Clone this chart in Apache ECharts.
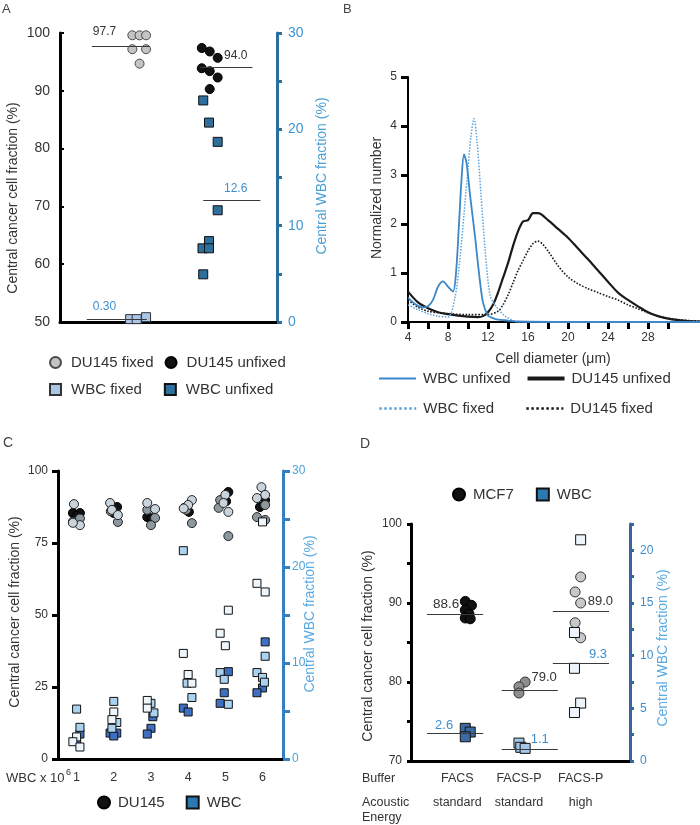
<!DOCTYPE html>
<html><head><meta charset="utf-8">
<script src="https://cdn.jsdelivr.net/npm/echarts@6/dist/echarts.min.js"></script>
<style>
html,body{margin:0;padding:0;background:#fff;}
.layer{position:absolute;left:0;top:0;width:700px;height:825px;}
</style></head><body>
<div id="cA" class="layer"></div>
<div id="cB" class="layer"></div>
<div id="cC" class="layer"></div>
<div id="cD" class="layer"></div>
<script>
// ================= DATA =================
// ---- Panel A : central fractions, fixed vs unfixed (x: 1 = fixed, 2 = unfixed) ----
const A_du145Fixed      = [99.6, 99.6, 99.6, 97.2, 97.2, 94.7];
const A_du145FixedJit   = [0, 0.1, 0.19, 0, 0.19, 0.1];
const A_du145Unfixed    = [97.4, 96.8, 95.7, 93.9, 93.4, 92.3, 90.3];
const A_du145UnfixedJit = [-0.04, 0.07, 0.18, -0.04, 0.07, 0.18, 0.07];
const A_wbcFixed        = [0.3, 0.3, 0.5];
const A_wbcFixedJit     = [-0.03, 0.06, 0.19];
const A_wbcUnfixed      = [23.0, 20.7, 18.7, 11.6, 7.65, 8.4, 7.65, 4.95];
const A_wbcUnfixedJit   = [-0.02, 0.06, 0.18, 0.18, -0.03, 0.06, 0.06, -0.02];
const A_cancerMeans     = [97.7, 94.0];
const A_cancerMeanText  = ['97.7', '94.0'];
const A_wbcMeans        = [0.30, 12.6];
const A_wbcMeanText     = ['0.30', '12.6'];
const A_leftTicks = [50, 100, 10];

// ---- Panel B : size distributions ----
const B_wbcUnfixedX = [4, 4.5, 5, 5.5, 6, 6.5, 7, 7.5, 8, 8.5, 8.8, 9.1, 9.35, 9.6, 9.85, 10.2, 10.7, 11.1, 11.5, 12, 12.5, 13, 14, 15, 20, 33.2];
const B_wbcUnfixedY = [0.5, 0.4, 0.33, 0.3, 0.32, 0.45, 0.72, 0.83, 0.72, 0.62, 1.0, 2.0, 2.9, 3.42, 3.25, 2.6, 1.75, 1.0, 0.4, 0.13, 0.08, 0.05, 0.03, 0.01, 0, 0];
const B_wbcFixedX   = [4, 5, 6, 7, 8, 8.7, 9.2, 9.6, 9.9, 10.3, 10.6, 10.9, 11.3, 11.7, 12.2, 12.7, 13.2, 13.7, 14.5, 15, 20, 33.2];
const B_wbcFixedY   = [0.35, 0.25, 0.17, 0.12, 0.1, 0.5, 1.3, 2.2, 2.9, 3.8, 4.15, 3.7, 2.6, 1.5, 0.55, 0.35, 0.22, 0.12, 0.03, 0, 0, 0];
const B_du145UnfixedX = [4, 5, 6, 7, 8, 9, 10, 11, 11.5, 12, 12.5, 13, 13.5, 14, 14.5, 15, 15.5, 16, 16.5, 17, 18, 19, 20, 21, 22, 23, 24, 25, 26, 27, 28, 29, 30, 31, 32, 33.2];
const B_du145UnfixedY = [0.62, 0.4, 0.28, 0.2, 0.16, 0.13, 0.11, 0.1, 0.12, 0.2, 0.35, 0.6, 0.9, 1.2, 1.55, 1.85, 2.05, 2.08, 2.22, 2.22, 2.08, 1.9, 1.72, 1.5, 1.28, 1.05, 0.82, 0.6, 0.45, 0.32, 0.2, 0.12, 0.07, 0.04, 0.02, 0.01];
const B_du145FixedX = [4, 5, 6, 8, 10, 12, 13, 13.5, 14, 14.5, 15, 15.5, 16, 16.5, 17, 17.5, 18, 19, 20, 21, 22, 23, 24, 25, 26, 27, 28, 29, 30, 31, 32, 33.2];
const B_du145FixedY = [0.45, 0.3, 0.22, 0.17, 0.15, 0.15, 0.22, 0.35, 0.55, 0.8, 1.05, 1.25, 1.45, 1.6, 1.65, 1.58, 1.45, 1.15, 0.92, 0.78, 0.68, 0.6, 0.52, 0.45, 0.35, 0.27, 0.19, 0.12, 0.08, 0.05, 0.03, 0.02];
const B_xTicks      = [4, 6, 8, 10, 12, 14, 16, 18, 20, 22, 24, 26, 28, 30];
const B_xTickLabels = [4, 8, 12, 16, 20, 24, 28];

// ---- Panel C : WBC load (x = WBC x 10^6), [group, value, jitter] ----
const C_groups = [1, 2, 3, 4, 5, 6];
const C_du145Grey  = [[1,82.4,-0.1],[1,83.5,0.09],[2,82.3,0.11],[2,86.0,-0.08],[3,86.5,-0.1],[3,83.7,0.11],[3,81.2,0],[4,81.9,0.1],[4,86.5,-0.05],[5,89.9,-0.14],[5,87.2,-0.18],[5,77.4,0.08],[6,88.2,0.07],[6,84.0,-0.15],[6,83.0,0.07]];
const C_du145Black = [[1,85.4,-0.1],[1,85.4,0.09],[1,84.5,0],[2,87.5,0.09],[2,85.4,0],[3,84.0,-0.1],[3,83.6,0.02],[4,87.2,-0.1],[4,85.8,0.02],[5,92.7,0.08],[5,89.5,0.02],[6,89.9,0.07],[6,87.5,-0.07]];
const C_du145Light = [[1,88.5,-0.07],[1,81.2,0.09],[1,82.0,-0.1],[2,88.9,-0.1],[2,86.5,-0.05],[2,84.7,0.11],[3,88.9,-0.1],[3,86.8,0.11],[4,89.9,0.1],[4,88.2,0],[4,87.0,-0.12],[5,91.7,0],[5,88.9,-0.05],[5,85.8,0.08],[6,94.4,-0.03],[6,91.7,0.07],[6,90.6,-0.15]];
const C_wbcDark  = [[1,2.6,0.09],[1,1.9,0],[2,2.7,-0.1],[2,2.7,0.08],[2,2.4,0],[3,4.4,0.05],[3,3.2,0],[3,2.6,-0.1],[4,5.3,-0.13],[4,4.9,0],[5,9.1,0.08],[5,6.9,-0.03],[5,5.8,-0.14],[6,12.2,0.07],[6,7.4,0],[6,6.9,-0.15]];
const C_wbcLight = [[1,5.2,0],[1,3.3,0.09],[2,6.0,0],[2,3.8,0.08],[2,3.2,-0.05],[3,5.8,0],[3,4.8,0.08],[4,21.7,-0.13],[4,7.9,-0.03],[4,6.4,0.1],[5,9.0,-0.14],[5,8.3,-0.03],[5,5.7,0.08],[6,10.7,0.07],[6,9.0,-0.15],[6,8.5,0],[6,8.0,0.05]];
const C_wbcWhite = [[1,2.3,0],[1,1.8,-0.1],[1,1.25,0.09],[2,4.9,0],[2,4.1,-0.05],[3,6.1,-0.1],[3,5.3,-0.1],[4,11.0,-0.13],[4,8.8,0],[4,7.9,0.1],[5,15.5,0.08],[5,13.1,-0.14],[5,11.8,0],[6,24.7,0],[6,18.3,-0.15],[6,17.4,0.07]];

// ---- Panel D : buffer / acoustic energy, [condition, value, jitter] ----
const D_buffers = ['FACS', 'FACS-P', 'FACS-P'];
const D_energy  = ['standard', 'standard', 'high'];
const D_mcf7Facs      = [[1,90.2,0.13],[1,89.7,0.23],[1,89.1,0.13],[1,88.6,0.19],[1,88.1,0.13],[1,88.0,0.21]];
const D_mcf7FacsPStd  = [[2,80.0,0.1],[2,79.4,0],[2,78.6,0]];
const D_mcf7FacsPHigh = [[3,93.3,0],[3,91.4,-0.09],[3,90.0,0],[3,87.5,-0.09],[3,85.6,0]];
const D_wbcFacs       = [[1,3.1,0.13],[1,2.75,0.21],[1,2.3,0.13]];
const D_wbcFacsPStd   = [[2,1.7,0],[2,1.3,0.03],[2,1.2,0.1]];
const D_wbcFacsPHigh  = [[3,21.0,0],[3,12.2,-0.1],[3,8.8,-0.1],[3,5.5,0],[3,4.6,-0.1]];
const D_cancerMeans    = [88.6, 79.0, 89.0];
const D_cancerMeanText = ['88.6', '79.0', '89.0'];
const D_wbcMeans       = [2.6, 1.1, 9.3];
const D_wbcMeanText    = ['2.6', '1.1', '9.3'];

// ================= HELPERS =================
const FONT = "'Liberation Sans', Arial, Helvetica, sans-serif";
const TXT = '#333';
function txt(x, y, text, size, color, align, rot) {
  return {type:'text', x:x, y:y, rotation: rot || 0, silent:true, z:100,
    style:{text:text, fill:color || TXT, font: size + 'px ' + FONT,
      align: align || 'left', verticalAlign:'middle', textAlign: align || 'left', textVerticalAlign:'middle'}};
}
const ROT = Math.PI / 2;
function pts(vals, jit, base) { return vals.map((v, i) => [base + jit[i], v]); }
function trip(arr) { return arr.map(d => [d[0] + d[2], d[1]]); }
function zip(xs, ys) { return xs.map((x, i) => [x, ys[i]]); }
function meanLine(value, x1, x2, text, pos, color, size, dist) {
  return {silent:true, symbol:'none', animation:false,
    lineStyle:{color:'#3a3a3a', width:1, type:'solid'},
    emphasis:{disabled:true},
    label:{show:true, position:pos, formatter:text, color:color, fontSize:size, fontFamily:FONT, distance:dist},
    data:[[{coord:[x1, value]}, {coord:[x2, value]}]]};
}
function scatter(name, data, yIdx, symbol, size, fill, border, extra) {
  return Object.assign({type:'scatter', name:name, yAxisIndex:yIdx, symbol:symbol, symbolSize:size,
    itemStyle:{color:fill, borderColor:border, borderWidth:1, opacity:1}, data:data, z:3}, extra || {});
}
function baseAxisLine(color, width) { return {show:true, onZero:false, lineStyle:{color:color, width:width}}; }
const NOSYM = {opacity:0, borderWidth:0};

// ================= PANEL A =================
const chartA = echarts.init(document.getElementById('cA'));
chartA.setOption({
  animation:false, backgroundColor:'#fff', textStyle:{fontFamily:FONT},
  grid:{left:60, top:33, width:217, height:289},
  xAxis:{type:'value', min:0, max:3, axisLine:baseAxisLine('#000', 3), axisTick:{show:false}, axisLabel:{show:false}, splitLine:{show:false}},
  yAxis:[
    {type:'value', min:A_leftTicks[0], max:A_leftTicks[1], interval:A_leftTicks[2], position:'left',
     axisLine:baseAxisLine('#000', 3), axisTick:{show:true, inside:true, length:4, lineStyle:{color:'#000', width:2}},
     axisLabel:{color:TXT, fontSize:14, margin:10}, splitLine:{show:false}},
    {type:'value', min:0, max:30, interval:5, position:'right',
     axisLine:baseAxisLine('#2a6e9b', 3), axisTick:{show:true, length:5, lineStyle:{color:'#2a6e9b', width:3}},
     axisLabel:{color:'#3f95d2', fontSize:14, margin:11, formatter:v => (v % 10 === 0 ? String(v) : '')}, splitLine:{show:false}}
  ],
  legend:[
    {left:49, top:355, padding:0, itemWidth:11, itemHeight:11, itemGap:11, textStyle:{fontSize:15, color:TXT, padding:[0,0,0,5]},
     data:[{name:'DU145 fixed', icon:'circle'}, {name:'DU145 unfixed', icon:'circle'}]},
    {left:49, top:382, padding:0, itemWidth:11, itemHeight:11, itemGap:22, textStyle:{fontSize:15, color:TXT, padding:[0,0,0,5]},
     data:[{name:'WBC fixed', icon:'rect'}, {name:'WBC unfixed', icon:'rect'}]}
  ],
  graphic:[
    txt(2, 9, 'A', 13, '#444'),
    txt(343, 9, 'B', 13, '#444'),
    txt(13, 198, 'Central cancer cell fraction (%)', 14, TXT, 'center', ROT),
    txt(322, 176, 'Central WBC fraction (%)', 14, '#4a9fd5', 'center', ROT)
  ],
  series:[
    scatter('DU145 fixed', pts(A_du145Fixed, A_du145FixedJit, 1), 0, 'circle', 9, '#c4c4c4', '#4a4a4a',
      {markLine: meanLine(A_cancerMeans[0], 0.44, 1.24, A_cancerMeanText[0], 'insideStartTop', TXT, 12, [1, 9])}),
    scatter('DU145 unfixed', pts(A_du145Unfixed, A_du145UnfixedJit, 2), 0, 'circle', 9, '#111', '#000',
      {markLine: meanLine(A_cancerMeans[1], 1.94, 2.66, A_cancerMeanText[1], 'insideEndTop', TXT, 12, [5, 6])}),
    scatter('WBC fixed', pts(A_wbcFixed, A_wbcFixedJit, 1), 1, 'rect', 9, '#a9c6e8', '#333',
      {markLine: meanLine(A_wbcMeans[0], 0.37, 1.2, A_wbcMeanText[0], 'insideStartTop', '#3f8fce', 12, [6, 6])}),
    scatter('WBC unfixed', pts(A_wbcUnfixed, A_wbcUnfixedJit, 2), 1, 'rect', 9, '#2e6f9e', '#111',
      {markLine: meanLine(A_wbcMeans[1], 1.98, 2.77, A_wbcMeanText[1], 'insideEndTop', '#3f8fce', 12, [13, 6])})
  ]
});

// ================= PANEL B =================
const chartB = echarts.init(document.getElementById('cB'));
chartB.setOption({
  animation:false, textStyle:{fontFamily:FONT},
  grid:{left:408, top:77, width:292, height:245},
  xAxis:{type:'value', min:4, max:33.2, axisLine:baseAxisLine('#000', 2),
    axisTick:{show:true, customValues:B_xTicks, length:7, lineStyle:{color:'#000', width:3}},
    axisLabel:{customValues:B_xTickLabels, fontSize:12, color:TXT, margin:10}, splitLine:{show:false}},
  yAxis:{type:'value', min:0, max:5, interval:1, axisLine:baseAxisLine('#000', 2),
    axisTick:{show:true, length:7, lineStyle:{color:'#000', width:3}},
    axisLabel:{fontSize:12, color:TXT, margin:11}, splitLine:{show:false}},
  legend:[
    {left:378, top:371, padding:0, itemWidth:37, itemHeight:10, itemGap:15, textStyle:{fontSize:15, color:TXT, padding:[0,0,0,2]},
     data:[{name:'WBC unfixed', lineStyle:{width:2}, itemStyle:NOSYM}, {name:'DU145 unfixed', lineStyle:{width:4}, itemStyle:NOSYM}]},
    {left:378, top:401, padding:0, itemWidth:37, itemHeight:10, itemGap:31, textStyle:{fontSize:15, color:TXT, padding:[0,0,0,2]},
     data:[{name:'WBC fixed', lineStyle:{width:2.5}, itemStyle:NOSYM}, {name:'DU145 fixed', lineStyle:{width:2.5}, itemStyle:NOSYM}]}
  ],
  graphic:[
    txt(377, 198, 'Normalized number', 14, TXT, 'center', ROT),
    txt(553, 359, 'Cell diameter (\u03bcm)', 14, TXT, 'center')
  ],
  series:[
    {type:'line', name:'DU145 fixed', data:zip(B_du145FixedX, B_du145FixedY), smooth:0.3, symbol:'none', showSymbol:false,
     lineStyle:{color:'#1a1a1a', width:1.6, type:'dotted'}, itemStyle:{color:'#1a1a1a'}},
    {type:'line', name:'DU145 unfixed', data:zip(B_du145UnfixedX, B_du145UnfixedY), smooth:0.3, symbol:'none', showSymbol:false,
     lineStyle:{color:'#1a1a1a', width:2.2}, itemStyle:{color:'#1a1a1a'}},
    {type:'line', name:'WBC fixed', data:zip(B_wbcFixedX, B_wbcFixedY), smooth:0.3, symbol:'none', showSymbol:false,
     lineStyle:{color:'#5ca3dd', width:1.5, type:'dotted'}, itemStyle:{color:'#5ca3dd'}},
    {type:'line', name:'WBC unfixed', data:zip(B_wbcUnfixedX, B_wbcUnfixedY), smooth:0.3, symbol:'none', showSymbol:false,
     lineStyle:{color:'#3b87c7', width:1.8}, itemStyle:{color:'#3b87c7'}}
  ]
});

// ================= PANEL C =================
const chartC = echarts.init(document.getElementById('cC'));
chartC.setOption({
  animation:false, textStyle:{fontFamily:FONT},
  grid:{left:58, top:471, width:225, height:288},
  xAxis:{type:'value', min:0.5, max:6.55, axisLine:baseAxisLine('#000', 3), axisTick:{show:false},
    axisLabel:{customValues:C_groups, fontSize:12.5, color:TXT, margin:12}, splitLine:{show:false}},
  yAxis:[
    {type:'value', min:0, max:100, interval:25, position:'left', axisLine:baseAxisLine('#000', 3),
     axisTick:{show:true, length:6, lineStyle:{color:'#000', width:3}},
     axisLabel:{fontSize:12, color:TXT, margin:10}, splitLine:{show:false}},
    {type:'value', min:0, max:30, interval:5, position:'right', axisLine:baseAxisLine('#3380c4', 3),
     axisTick:{show:true, length:7, lineStyle:{color:'#3380c4', width:3}},
     axisLabel:{fontSize:12, color:'#4ba2dc', margin:9, formatter:v => (v % 10 === 0 ? String(v) : '')}, splitLine:{show:false}}
  ],
  legend:{left:97, top:795, padding:0, itemWidth:12, itemHeight:12, itemGap:21, textStyle:{fontSize:15, color:TXT, padding:[0,0,0,3]},
    data:[{name:'DU145', icon:'circle', itemStyle:{color:'#111', borderColor:'#000'}},
          {name:'WBC', icon:'rect', itemStyle:{color:'#2b79b0', borderColor:'#111'}}]},
  graphic:[
    txt(3, 443, 'C', 14, '#444'),
    txt(15, 612, 'Central cancer cell fraction (%)', 14, TXT, 'center', ROT),
    txt(310, 614, 'Central WBC fraction (%)', 14, '#5aa9e0', 'center', ROT),
    txt(6, 778, 'WBC x 10', 13, TXT),
    txt(66, 773, '6', 9, TXT)
  ],
  series:[
    scatter('DU145', trip(C_du145Black), 0, 'circle', 9, '#111', '#000'),
    scatter('DU145', trip(C_du145Grey), 0, 'circle', 9, '#8c979e', '#222'),
    scatter('DU145', trip(C_du145Light), 0, 'circle', 9, '#c8d3dc', '#222'),
    scatter('WBC', trip(C_wbcDark), 1, 'rect', 8, '#3f6fc0', '#111', {z:4}),
    scatter('WBC', trip(C_wbcLight), 1, 'rect', 8, '#a9d3f0', '#111', {z:4}),
    scatter('WBC', trip(C_wbcWhite), 1, 'rect', 8, '#eef6fc', '#111', {z:4})
  ]
});

// ================= PANEL D =================
const chartD = echarts.init(document.getElementById('cD'));
chartD.setOption({
  animation:false, textStyle:{fontFamily:FONT},
  grid:{left:411, top:524, width:219, height:237},
  xAxis:{type:'value', min:0.25, max:3.8, axisLine:baseAxisLine('#000', 3), axisTick:{show:false},
    axisLabel:{customValues:[1, 2, 3], fontSize:12.5, color:TXT, margin:6, lineHeight:24,
      formatter:v => D_buffers[v - 1] + '\n' + D_energy[v - 1]}, splitLine:{show:false}},
  yAxis:[
    {type:'value', min:70, max:100, interval:5, position:'left', axisLine:baseAxisLine('#000', 3),
     axisTick:{show:true, length:4, lineStyle:{color:'#000', width:3}},
     axisLabel:{fontSize:12, color:TXT, margin:9, formatter:v => (v % 10 === 0 ? String(v) : '')}, splitLine:{show:false}},
    {type:'value', min:0, max:22.5, interval:2.5, position:'right', axisLine:baseAxisLine('#3b62a0', 3),
     axisTick:{show:true, length:4, lineStyle:{color:'#3b62a0', width:3}},
     axisLabel:{fontSize:12, color:'#3d8fcf', margin:10, formatter:v => (v % 5 === 0 ? String(v) : '')}, splitLine:{show:false}}
  ],
  legend:{left:452, top:487, padding:0, itemWidth:12, itemHeight:12, itemGap:22, textStyle:{fontSize:15, color:TXT, padding:[0,0,0,3]},
    data:[{name:'MCF7', icon:'circle', itemStyle:{color:'#111', borderColor:'#000'}},
          {name:'WBC', icon:'rect', itemStyle:{color:'#2b79b0', borderColor:'#111'}}]},
  graphic:[
    txt(360, 444, 'D', 14, '#444'),
    txt(368, 646, 'Central cancer cell fraction (%)', 14, TXT, 'center', ROT),
    txt(663, 648, 'Central WBC fraction (%)', 14, '#5aa9e0', 'center', ROT),
    txt(362, 779, 'Buffer', 12.5, TXT),
    txt(362, 803, 'Acoustic', 12.5, TXT),
    txt(362, 818, 'Energy', 12.5, TXT)
  ],
  series:[
    scatter('MCF7', trip(D_mcf7Facs), 0, 'circle', 10, '#111', '#000',
      {markLine: meanLine(D_cancerMeans[0], 0.51, 1.42, D_cancerMeanText[0], 'insideStartTop', TXT, 13.5, [6, 3])}),
    scatter('MCF7', trip(D_mcf7FacsPStd), 0, 'circle', 10, '#8e8e8e', '#333',
      {markLine: meanLine(D_cancerMeans[1], 1.72, 2.63, D_cancerMeanText[1], 'insideEndTop', TXT, 13, [1, 6])}),
    scatter('MCF7', trip(D_mcf7FacsPHigh), 0, 'circle', 10, '#c8c8c8', '#333',
      {markLine: meanLine(D_cancerMeans[2], 2.55, 3.46, D_cancerMeanText[2], 'insideEndTop', TXT, 13, [-4, 3])}),
    scatter('WBC', trip(D_wbcFacs), 1, 'rect', 10, '#3b6aa5', '#111',
      {z:4, markLine: meanLine(D_wbcMeans[0], 0.51, 1.42, D_wbcMeanText[0], 'insideStartTop', '#3f8fce', 13, [8, 2])}),
    scatter('WBC', trip(D_wbcFacsPStd), 1, 'rect', 10, '#a6c8e8', '#111',
      {z:4, markLine: meanLine(D_wbcMeans[1], 1.72, 2.63, D_wbcMeanText[1], 'insideEndTop', '#3f8fce', 13, [9, 3])}),
    scatter('WBC', trip(D_wbcFacsPHigh), 1, 'rect', 10, '#eef4fb', '#111',
      {z:4, markLine: meanLine(D_wbcMeans[2], 2.55, 3.46, D_wbcMeanText[2], 'insideEndTop', '#3f8fce', 13, [2, 2])})
  ]
});
</script></body></html>
